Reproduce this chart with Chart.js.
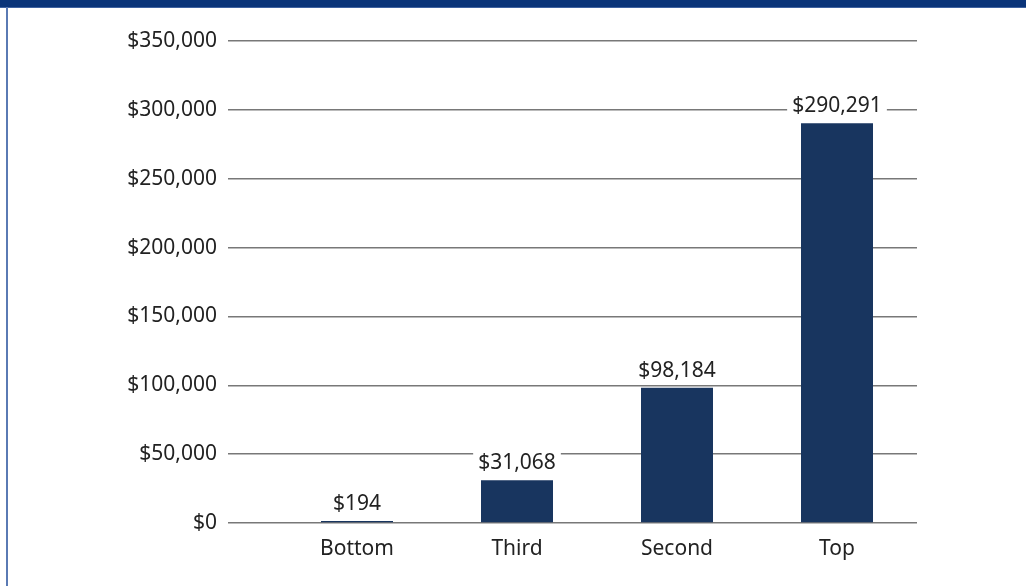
<!DOCTYPE html>
<html lang="en">
<head>
  <meta charset="UTF-8" />
  <title>Net worth by quartile</title>
  <script src="https://cdn.jsdelivr.net/npm/chart.js"></script>
  <style>
    html, body { margin: 0; padding: 0; background: #fff; }
    .frame { position: relative; width: 1026px; height: 586px; overflow: hidden; }
    .band { position: absolute; left: 0; top: 0; width: 1026px; height: 7px; background: #0a3479; border-bottom: 1px solid #3f62a0; }
    .edge { position: absolute; left: 6px; top: 7px; width: 2px; height: 579px; background: #5a7ab4; }
    canvas { position: absolute; left: 0; top: 0; }
  </style>
</head>
<body>
  <div class="frame">
    <canvas id="grafico" width="1026" height="586"></canvas>
    <div class="band"></div>
    <div class="edge"></div>
  </div>

  <script>
    const categorias = ['Bottom', 'Third', 'Second', 'Top'];
    const valores = [194, 31068, 98184, 290291];
    const eixoMax = 350000;
    const eixoPasso = 50000;

    const azul = '#18355f';
    const fonte = '"Noto Sans", sans-serif';

    function dinheiro(v) {
      return '$' + v.toLocaleString('en-US');
    }

    // rótulos de valor acima das barras, com fundo branco cortando a grade
    const rotulos = {
      id: 'rotulos',
      afterDatasetsDraw(chart) {
        const ctx = chart.ctx;
        const meta = chart.getDatasetMeta(0);
        ctx.save();
        ctx.font = '21px ' + fonte;
        ctx.textAlign = 'center';
        ctx.textBaseline = 'middle';
        meta.data.forEach((bar, i) => {
          const txt = dinheiro(valores[i]);
          const w = ctx.measureText(txt).width;
          const y = bar.y - 17;
          ctx.fillStyle = '#fff';
          ctx.fillRect(bar.x - w / 2 - 5, y - 11, w + 10, 22);
          ctx.fillStyle = '#222';
          ctx.fillText(txt, bar.x, y);
        });
        ctx.restore();
      }
    };

    new Chart(document.getElementById('grafico'), {
      type: 'bar',
      data: {
        labels: categorias,
        datasets: [{
          data: valores,
          backgroundColor: azul,
          borderWidth: 0,
          categoryPercentage: 1,
          barPercentage: 0.45,
          minBarLength: 2
        }]
      },
      options: {
        responsive: false,
        animation: false,
        layout: { padding: { top: 41, right: 109, bottom: 0, left: 0 } },
        plugins: { legend: { display: false }, tooltip: { enabled: false } },
        scales: {
          x: {
            grid: { display: false },
            border: { display: false },
            ticks: { color: '#222', font: { family: fonte, size: 21 }, padding: 5 },
            afterFit(scale) { scale.height = 63; }
          },
          y: {
            min: 0,
            max: eixoMax,
            grid: { color: '#787878', lineWidth: 1.5, drawTicks: true, tickLength: 49 },
            border: { display: false },
            ticks: {
              stepSize: eixoPasso,
              color: '#222',
              font: { family: fonte, size: 21 },
              padding: 11,
              callback: v => dinheiro(v)
            },
            afterFit(scale) { scale.width = 277; }
          }
        }
      },
      plugins: [rotulos]
    });
  </script>
</body>
</html>
